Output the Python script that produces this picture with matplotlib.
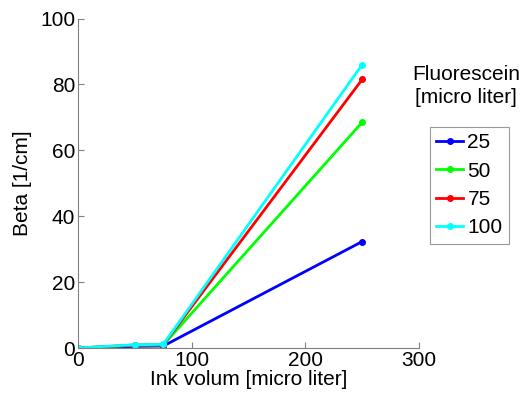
import numpy as np
import matplotlib.pyplot as plt

plt.rcParams['font.family'] = ['Liberation Sans', 'DejaVu Sans']

# Данные
ink_volume = [0, 50, 75, 250]
fluorescein_labels = ['25', '50', '75', '100']
beta_25 = [0, 0.5, 0.6, 32.3]
beta_50 = [0, 0.8, 0.9, 68.5]
beta_75 = [0, 0.9, 1.0, 81.5]
beta_100 = [0, 1.0, 1.1, 86.0]
colors = ['#0000ff', '#00ff00', '#ff0000', '#00ffff']

fig = plt.figure(figsize=(5.25, 4.08), dpi=100)
ax = fig.add_axes([78 / 525, 1 - 348 / 408, (419 - 78) / 525, (348 - 18.5) / 408])

for ys, lab, c in zip([beta_25, beta_50, beta_75, beta_100], fluorescein_labels, colors):
    ax.plot(ink_volume, ys, '-o', color=c, lw=2, ms=4, label=lab)

ax.set_xlim(0, 300)
ax.set_ylim(0, 100)
ax.set_xticks([0, 100, 200, 300])
ax.set_yticks([0, 20, 40, 60, 80, 100])
ax.spines['top'].set_visible(False)
ax.spines['right'].set_visible(False)
for s in ['left', 'bottom']:
    ax.spines[s].set_color('#808080')
ax.tick_params(colors='#808080', labelcolor='black', labelsize=15, direction='in', length=4, pad=2)
ax.set_xlabel('Ink volum [micro liter]', fontsize=15, labelpad=0)
ax.set_ylabel('Beta [1/cm]', fontsize=15, labelpad=6)

leg = ax.legend(loc='upper left', bbox_to_anchor=(430 / 525, 1 - 127 / 408), bbox_transform=fig.transFigure,
                fontsize=15, frameon=True, fancybox=False, edgecolor='#808080', borderaxespad=0,
                handlelength=1.3, handletextpad=0.2, borderpad=0.3, labelspacing=0.45)
leg.get_frame().set_linewidth(0.8)
fig.text(466 / 525, 1 - 86 / 408, 'Fluorescein\n[micro liter]', ha='center', va='center', fontsize=15,
         linespacing=1.25)

fig.savefig('out.png', dpi=100)
